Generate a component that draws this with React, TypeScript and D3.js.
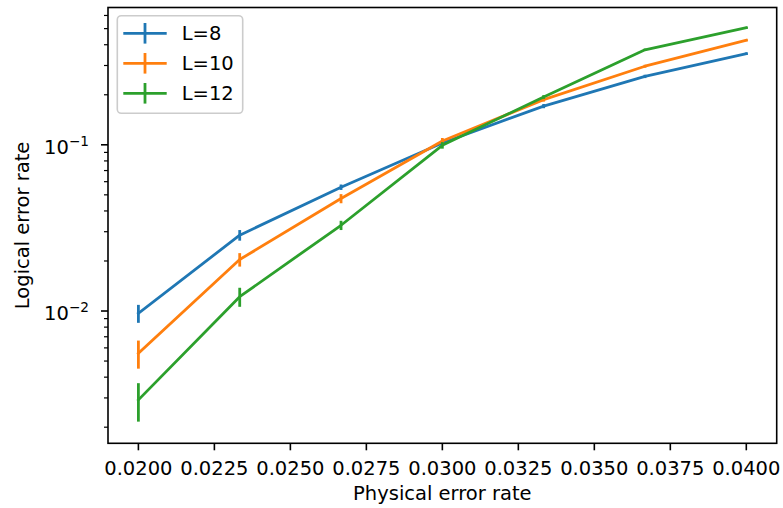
import React from "react";
import * as d3 from "d3";

// ---- data ----
const physicalErrorRates = [0.02, 0.0233333, 0.0266667, 0.03, 0.0333333, 0.0366667, 0.04];
const seriesLabels = ["L=8", "L=10", "L=12"];
const l8Rates = [0.00969, 0.0286, 0.0556, 0.1026, 0.171, 0.258, 0.353];
const l8Errors = [0.0012, 0.0021, 0.0021, 0.0045, 0.005, 0.006, 0.006];
const l10Rates = [0.00557, 0.0204, 0.0475, 0.1054, 0.187, 0.297, 0.426];
const l10Errors = [0.00107, 0.0019, 0.003, 0.0045, 0.005, 0.006, 0.006];
const l12Rates = [0.00292, 0.0122, 0.0328, 0.0993, 0.194, 0.373, 0.506];
const l12Errors = [0.00076, 0.0016, 0.0021, 0.0045, 0.005, 0.006, 0.006];
const xTickValues = [0.02, 0.0225, 0.025, 0.0275, 0.03, 0.0325, 0.035, 0.0375, 0.04];
const yMajorTickValues = [0.01, 0.1];
const yMajorTickExponents = ["−2", "−1"];
const colors = ["#1f77b4", "#ff7f0e", "#2ca02c"];

const FONT = "DejaVu Sans, sans-serif";
const FS = 19.5;

export default function App() {
  const W = 783;
  const H = 508;
  const left = 108;
  const top = 7.5;
  const right = 776.7;
  const bottom = 443.3;

  const x = d3.scaleLinear().domain([0.019, 0.041]).range([left, right]);
  const y = d3.scaleLog().domain([0.0016, 0.67]).range([bottom, top]);

  const series = [
    { label: seriesLabels[0], values: l8Rates, errors: l8Errors, color: colors[0] },
    { label: seriesLabels[1], values: l10Rates, errors: l10Errors, color: colors[1] },
    { label: seriesLabels[2], values: l12Rates, errors: l12Errors, color: colors[2] },
  ];

  const line = d3
    .line<number>()
    .x((_, i) => x(physicalErrorRates[i]))
    .y((d) => y(d));

  const allLogTicks = y.ticks();
  const minorTicks = allLogTicks.filter((t) => {
    const e = Math.log10(t);
    return Math.abs(e - Math.round(e)) > 1e-6;
  });

  const legendRowY = [33.3, 63.3, 93.3];

  return (
    <svg
      width={W}
      height={H}
      style={{ position: "absolute", left: 0, top: 0, background: "#fff" }}
      fontFamily={FONT}
    >
      <rect x={0} y={0} width={W} height={H} fill="#fff" />

      {/* series */}
      {series.map((s) => (
        <g key={s.label}>
          <path d={line(s.values) || ""} fill="none" stroke={s.color} strokeWidth={2.8} strokeLinejoin="round" strokeLinecap="square" />
          {s.values.map((v, i) => (
            <line
              key={i}
              x1={x(physicalErrorRates[i])}
              x2={x(physicalErrorRates[i])}
              y1={y(v - s.errors[i])}
              y2={y(v + s.errors[i])}
              stroke={s.color}
              strokeWidth={2.8}
            />
          ))}
        </g>
      ))}

      {/* spines */}
      <rect x={left} y={top} width={right - left} height={bottom - top} fill="none" stroke="#000" strokeWidth={1.6} />

      {/* x ticks */}
      {xTickValues.map((t) => (
        <g key={t}>
          <line x1={x(t)} x2={x(t)} y1={bottom} y2={bottom + 7} stroke="#000" strokeWidth={1.6} />
          <text x={x(t)} y={bottom + 31.5} textAnchor="middle" fontSize={FS} fill="#000">
            {t.toFixed(4)}
          </text>
        </g>
      ))}

      {/* y major ticks */}
      {yMajorTickValues.map((t, i) => (
        <g key={t}>
          <line x1={left - 7} x2={left} y1={y(t)} y2={y(t)} stroke="#000" strokeWidth={1.6} />
          <text x={89} y={y(t) + 9} textAnchor="end" fontSize={FS} fill="#000">
            <tspan>10</tspan>
            <tspan dy={-8} fontSize={FS * 0.7}>
              {yMajorTickExponents[i]}
            </tspan>
          </text>
        </g>
      ))}

      {/* y minor ticks */}
      {minorTicks.map((t) => (
        <line key={t} x1={left - 4} x2={left} y1={y(t)} y2={y(t)} stroke="#000" strokeWidth={1.2} />
      ))}

      {/* axis titles */}
      <text x={(left + right) / 2} y={500} textAnchor="middle" fontSize={FS} fill="#000">
        Physical error rate
      </text>
      <text
        transform={`translate(29,${(top + bottom) / 2}) rotate(-90)`}
        textAnchor="middle"
        fontSize={FS}
        fill="#000"
      >
        Logical error rate
      </text>

      {/* legend */}
      <rect x={117.3} y={15.7} width={125.4} height={97.6} rx={4} ry={4} fill="#fff" fillOpacity={0.8} stroke="#cccccc" strokeWidth={1.6} />
      {series.map((s, i) => (
        <g key={s.label}>
          <line x1={123.3} x2={166.7} y1={legendRowY[i]} y2={legendRowY[i]} stroke={s.color} strokeWidth={2.8} />
          <line x1={145} x2={145} y1={legendRowY[i] - 10.3} y2={legendRowY[i] + 10.3} stroke={s.color} strokeWidth={2.8} />
          <text x={181.7} y={legendRowY[i] + 7} fontSize={FS} fill="#000">
            {s.label}
          </text>
        </g>
      ))}
    </svg>
  );
}
